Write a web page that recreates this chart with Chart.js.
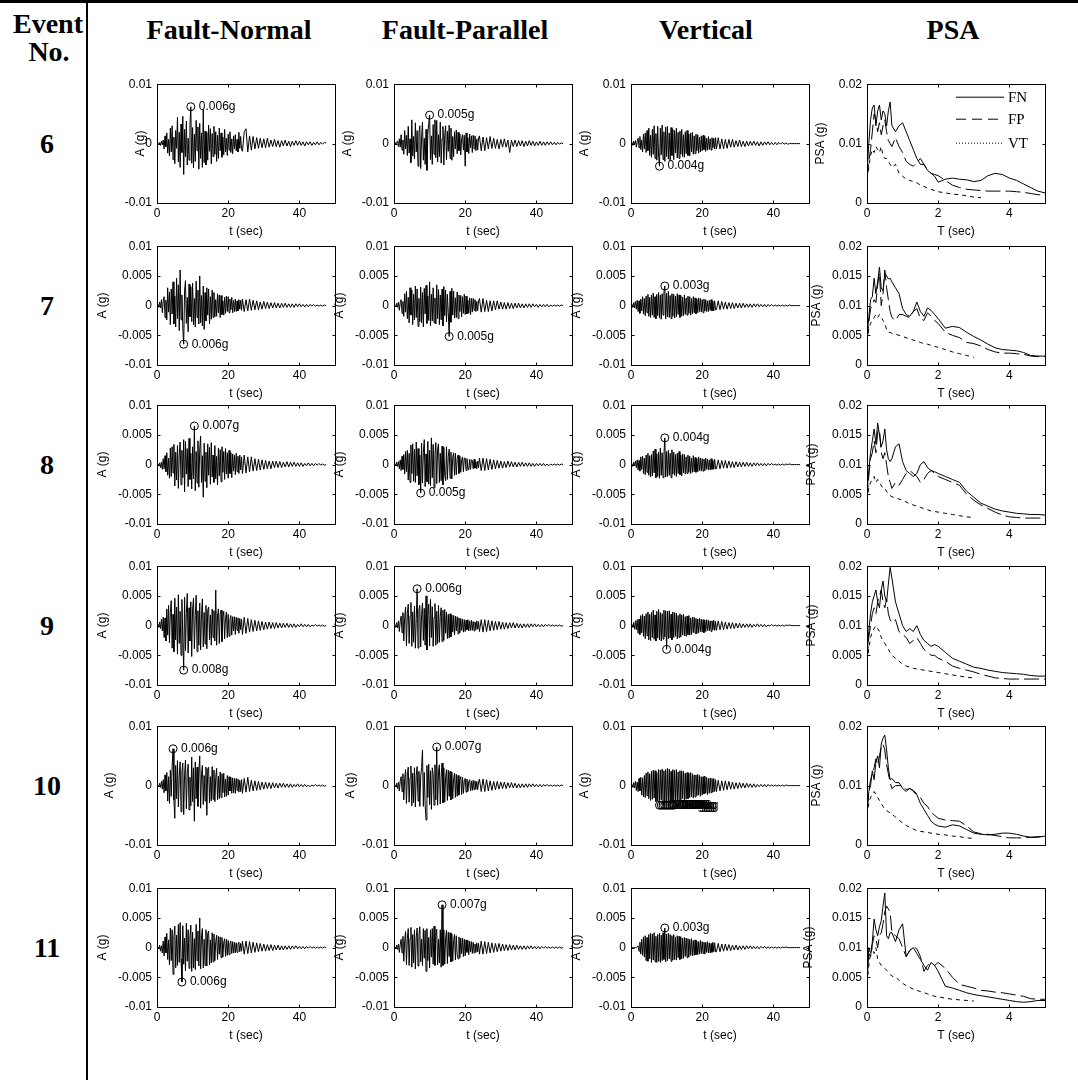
<!DOCTYPE html>
<html><head><meta charset="utf-8">
<script src="https://cdn.jsdelivr.net/npm/chart.js@4.4.1/dist/chart.umd.min.js"></script>
<style>
body{margin:0;background:#fff;width:1078px;height:1080px;position:relative;overflow:hidden}
.hd{position:absolute;font-family:"Liberation Serif",serif;font-weight:bold;font-size:28px;line-height:1;transform:translate(-50%,-50%);white-space:nowrap;color:#000}
</style></head><body>
<div style="position:absolute;left:0;top:0;width:1078px;height:3px;background:#000"></div>
<div style="position:absolute;left:86px;top:0;width:2px;height:1080px;background:#000"></div>
<script>
// ---------------- data ----------------
const events = ['6','7','8','9','10','11'];
const columns = ['Fault-Normal','Fault-Parallel','Vertical','PSA'];
// digitised records: 96 samples every 0.25 s (0-24 s), then 48 samples every 0.5 s (24-47.5 s)
const DT_STRONG = 0.25, N_STRONG = 96, DT_TAIL = 0.5;
const MG = 0.001;        // values below are in milli-g
const tTicks = [0,20,40];
const TTicks = [0,2,4];
const aTicksCoarse = [-0.01,0,0.01];
const aTicksFine = [-0.01,-0.005,0,0.005,0.01];
const psaTicksCoarse = [0,0.01,0.02];
const psaTicksFine = [0,0.005,0.01,0.015,0.02];
const fineRow = [false,true,true,true,false,true];

const fn6=[0,0.1,-0.1,0.2,-0.3,0.4,-0.2,0.6,
-0.9,1.3,-0.5,1.8,-1.6,0.7,-2.1,2.6,
-1.4,3.0,-2.7,1.1,-3.4,2.2,-0.8,4.4,
-3.1,1.9,-4.0,3.3,-1.5,4.6,-5.2,2.4,
-2.2,3.8,-3.6,0.9,-2.8,3.1,6.2,-3.3,
2.7,-4.1,1.6,-3.0,3.9,-1.2,2.8,-4.3,
3.4,-2.5,1.8,-4.0,5.8,-3.2,2.1,-3.6,
1.9,-2.8,3.1,-1.3,2.5,-3.4,1.7,-2.2,
2.9,-1.8,2.0,-3.0,1.4,-2.5,2.6,-1.2,
1.8,-2.3,1.1,-1.9,2.4,-1.4,0.9,-2.0,
1.6,-1.1,2.0,-1.5,0.8,-1.7,1.3,-0.9,
1.5,-1.2,0.7,-1.4,1.9,-0.8,1.2,-1.0,
-1.3,2.0, 2.5,-1.4,1.3,-1.1,1.2,-0.9,1.0,-0.8,0.9,-0.7, 0.8,-0.7,0.9,-0.6,0.6,-0.5,0.7,-0.5,0.5,-0.6, 0.5,-0.4,0.6,-0.4,0.4,-0.5,0.4,-0.3,0.5,-0.3, 0.4,-0.3,0.3,-0.4,0.3,-0.2,0.3,-0.3,0.2,-0.2, 0.3,-0.2,0.2,-0.1,0.2,0.1];
const fp6=[0,0.2,-0.1,0.3,0.4,-0.5,0.8,-0.6,
1.5,-1.1,0.6,-1.8,2.2,-0.9,1.4,-2.0,
2.9,-1.6,0.8,-3.2,4.0,-2.1,1.2,-2.6,
3.5,-1.4,2.2,-3.8,1.7,3.0,-4.2,1.1,
3.6,-2.8,0.9,-3.5,2.4,-4.5,1.6,3.4,
4.8,-2.7,1.3,-3.5,3.2,-1.8,4.0,-2.4,
3.9,-3.1,1.5,-2.2,3.6,-3.3,0.8,2.9,
-3.6,1.4,3.0,-2.7,2.1,-1.3,3.1,-2.5,
2.6,-2.8,1.2,-2.2,2.0,-0.9,2.3,-1.7,
1.9,-1.2,1.6,-1.9,0.8,1.5,-1.1,1.4,
-3.8,1.8,-1.4,1.0,-1.7,1.6,-0.7,1.3,
-1.5,1.4,-0.9,1.3,-1.2,0.8,-1.1,1.0,
1.3,-1.2, 1.1,-1.2,1.0,-0.9,1.2,-0.8,0.9,-0.8,0.7,-0.9, 0.7,-0.6,0.8,-0.6,0.6,-1.5,0.6,-0.5,0.6,-0.5, 0.5,-0.4,0.5,-0.5,0.4,-0.4,0.5,-0.3,0.4,-0.4, 0.3,-0.3,0.4,-0.3,0.3,-0.3,0.3,-0.2,0.3,-0.2, 0.2,-0.2,0.2,-0.1,0.1,0];
const vt6=[0,0.2,-0.3,0.4,-0.2,0.5,-0.6,0.3,
0.9,-0.7,1.2,-1.0,0.6,-1.4,1.6,-0.9,
1.8,-1.5,2.2,-1.2,2.6,-2.0,1.4,-2.3,
2.4,-1.8,3.0,-2.5,1.7,-2.8,2.9,-2.1,
-3.8,2.6,-1.9,3.1,-2.7,2.0,-3.0,2.8,
-2.2,2.9,-2.6,1.8,-2.9,2.7,-2.0,2.4,
-2.7,2.2,-1.6,2.6,-2.4,1.9,-2.5,2.1,
-1.8,2.4,-2.2,1.5,-2.3,2.0,-1.7,2.2,
-2.0,1.6,-2.1,1.8,-1.4,1.9,-1.8,1.3,
-1.7,1.6,-1.2,1.5,-1.6,1.1,-1.4,1.3,
-1.2,1.4,-1.0,1.2,-1.3,0.9,-1.1,1.2,
-1.0,0.8,-1.1,1.0,-0.7,0.9,-0.9,1.0,
-0.9,1.0, -0.9,0.8,-0.9,0.7,-0.8,0.7,-0.6,0.7,-0.6,0.5, -0.5,0.6,-0.5,0.4,-0.5,0.4,-0.4,0.4,-0.3,0.4, -0.3,0.3,-0.4,0.3,-0.3,0.3,-0.2,0.3,-0.2,0.2, -0.2,0.2,-0.2,0.2,-0.1,0.2,-0.1,0.1,-0.1,0, 0,0,0,0,0,0];
const fn7=[0,0.2,-0.3,0.6,-0.4,1.0,-1.2,0.8,
1.5,-2.0,0.9,-2.4,3.0,-1.1,2.3,-3.2,
2.8,-1.4,4.0,-3.1,1.6,-3.6,4.6,-2.2,
3.5,-4.2,6.0,-2.4,1.8,-3.8,-6.5,2.6,
4.2,-3.0,1.4,-4.4,3.6,-1.9,3.2,-2.7,
3.8,-3.2,1.2,-3.6,4.1,-2.0,2.6,-3.1,
5.0,-2.9,1.7,-3.4,3.3,-4.0,2.2,-2.6,
3.0,-1.6,2.8,-3.1,1.5,-2.3,2.6,-2.0,
2.2,-1.9,1.0,-1.8,2.0,-1.2,1.8,-2.0,
1.7,-1.5,0.8,-1.6,1.4,-1.3,1.6,-1.0,
1.5,-1.2,1.1,-0.7,1.4,-1.2,0.9,-1.0,
1.1,-1.0,0.8,-0.9,1.0,-0.6,0.9,-0.8,
1.1,-1.0, 1.0,-0.9,1.1,-0.8,0.9,-0.7,0.8,-0.7,0.6,-0.6, 0.7,-0.5,0.6,-0.5,0.5,-0.4,0.5,-0.4,0.4,-0.4, 0.4,-0.3,0.4,-0.3,0.3,-0.3,0.3,-0.3,0.3,-0.2, 0.3,-0.2,0.2,-0.2,0.2,-0.2,0.2,-0.1,0.2,-0.1, 0.1,-0.1,0.1,-0.1,0.1,0];
const fp7=[0,0.1,-0.2,0.4,-0.3,0.6,-0.8,0.5,
1.0,-1.3,0.7,-1.8,2.0,-1.1,2.4,-2.2,
1.4,-2.9,3.0,-1.6,2.6,-3.2,1.9,-2.4,
3.3,-2.0,2.8,-3.5,1.2,-2.7,3.1,-2.9,
2.2,-3.6,2.9,-1.4,3.4,-3.0,1.6,-2.5,
4.0,-3.4,1.9,-2.6,3.0,-2.9,1.3,-3.1,
3.5,-2.2,2.7,-3.2,1.8,-2.4,2.8,-3.4,
3.2,-1.7,2.6,-2.7,1.9,-1.2,-5.2,2.4,
-2.8,2.9,-1.6,2.4,-2.1,1.3,-2.0,2.3,
-2.2,1.8,-1.0,1.7,-1.9,1.5,-1.3,1.9,
-1.5,1.6,-1.4,0.9,-1.3,1.3,-1.5,1.2,
-1.1,1.2,-0.8,1.0,-1.0,0.7,-0.9,0.8,
1.2,-1.1, 1.2,-1.0,0.9,-1.0,0.8,-0.9,0.8,-0.7,0.8,-0.6, 0.6,-0.6,0.5,-0.6,0.5,-0.5,0.4,-0.5,0.4,-0.4, 0.4,-0.4,0.3,-0.4,0.3,-0.3,0.3,-0.3,0.3,-0.2, 0.2,-0.3,0.2,-0.2,0.2,-0.2,0.2,-0.2,0.1,-0.1, 0.1,-0.1,0.1,-0.1,0.1,0];
const vt7=[0,0.2,-0.3,0.5,-0.4,0.7,-0.6,0.9,
-1.0,0.8,-1.3,1.1,-0.9,1.5,-1.4,1.2,
-1.7,1.6,-1.2,1.9,-1.8,1.4,-2.0,1.8,
-1.6,2.1,-2.0,1.5,-2.2,1.9,-1.7,2.2,
-2.1,1.8,-2.3,2.0,-1.6,2.3,3.3,-2.2,
2.1,-1.9,2.4,-2.0,1.7,-2.2,2.0,-1.8,
1.9,-2.1,1.6,-1.9,2.0,-1.5,1.8,-2.0,
1.7,-1.8,1.4,-1.7,1.8,-1.5,1.3,-1.6,
1.6,-1.3,1.5,-1.6,1.2,-1.4,1.5,-1.2,
1.3,-1.4,1.1,-1.2,1.3,-1.0,1.2,-1.1,
1.0,-1.2,1.1,-0.9,1.0,-1.0,0.8,-1.0,
0.9,-0.8,1.0,-0.9,0.7,-0.9,0.8,-0.7,
-0.7,0.8, -0.7,0.7,-0.6,0.6,-0.6,0.5,-0.5,0.5,-0.5,0.4, -0.4,0.4,-0.4,0.4,-0.3,0.3,-0.3,0.3,-0.3,0.3, -0.2,0.3,-0.2,0.2,-0.2,0.2,-0.2,0.2,-0.1,0.2, -0.1,0.1,-0.1,0.1,-0.1,0.1,-0.1,0.1,-0.1,0.1, 0,0,0,0,0,0];
const fn8=[0,0.1,-0.2,0.3,-0.5,0.4,-0.8,1.0,
-0.7,1.5,-1.2,2.0,-1.8,1.1,-2.3,2.8,
-2.0,3.0,-1.4,3.4,-3.6,2.1,-2.6,3.2,
-4.0,1.8,3.8,-3.4,2.4,-2.2,4.2,-4.6,
3.9,-1.6,2.7,-3.7,4.4,-2.5,1.9,-4.1,
3.0,-2.4,6.5,-4.4,2.2,-3.1,4.0,-3.8,
2.6,4.8,-3.0,1.5,-5.5,3.6,-2.8,2.1,
-3.9,3.5,-1.8,2.9,-3.3,3.7,-2.1,1.6,
-3.0,3.2,-2.4,1.4,-3.4,2.8,-1.9,2.5,
-2.9,3.0,-1.3,2.2,-2.5,2.7,-1.6,2.0,
-2.3,2.4,-1.5,2.0,-2.2,1.8,-1.1,1.6,
-1.7,1.9,-1.2,1.4,-1.5,1.6,-0.9,1.3,
-1.5,1.6, -1.4,1.3,-1.2,1.3,-1.1,1.0,-1.0,0.9,-0.9,0.8, -0.8,0.7,-0.7,0.6,-0.7,0.6,-0.5,0.6,-0.5,0.5, -0.5,0.4,-0.4,0.5,-0.4,0.4,-0.3,0.4,-0.3,0.3, -0.3,0.3,-0.3,0.2,-0.2,0.3,-0.2,0.2,-0.2,0.2, -0.1,0.2,-0.1,0.1,-0.1,0];
const fp8=[0,0.1,-0.2,0.4,-0.3,0.5,-0.7,0.8,
-1.0,1.4,-0.8,1.7,-1.6,2.2,-1.2,2.4,
-2.6,1.9,-3.0,3.3,-1.5,3.5,-2.8,2.6,
-3.0,3.8,-1.9,2.7,-3.4,1.6,-4.8,3.6,
-3.1,2.0,4.2,-3.7,1.8,-2.9,3.9,-3.3,
2.4,-3.6,4.5,-2.2,3.4,-3.9,1.7,3.7,
-3.2,2.6,3.5,-3.0,1.9,-2.7,3.1,-3.4,
2.9,-1.8,-2.7,3.0,-2.5,1.4,2.6,-2.3,
2.1,-2.4,1.2,2.0,-1.8,1.9,-1.7,1.0,
1.6,-1.5,1.4,-1.3,0.8,1.3,-1.2,1.1,
1.1,-1.0,1.0,-0.6,-0.9,0.9,-0.8,0.8,
0.7,-0.7,0.9,-0.6,0.5,-0.7,0.6,-0.5,
1.1,-1.0, 1.1,-1.0,1.0,-0.9,0.9,-0.8,0.8,-0.7,0.7,-0.6, 0.6,-0.6,0.5,-0.5,0.6,-0.4,0.5,-0.4,0.4,-0.4, 0.4,-0.3,0.4,-0.3,0.3,-0.3,0.3,-0.3,0.2,-0.3, 0.2,-0.2,0.2,-0.2,0.2,-0.2,0.1,-0.2,0.1,-0.1, 0.1,-0.1,0.1,-0.1,0.1,0];
const vt8=[0,0.1,-0.3,0.4,-0.2,0.6,-0.5,0.8,
-0.9,0.7,-1.1,1.3,-0.8,1.4,-1.5,1.1,
-1.7,1.6,-1.3,1.9,-1.8,1.5,-2.1,1.7,
-1.9,2.3,-1.4,2.6,-2.2,1.8,-2.0,2.1,
-2.3,2.8,-1.8,2.0,-2.2,1.7,4.5,-2.1,
2.2,-2.0,2.4,-1.8,1.9,-2.2,2.5,-1.6,
2.1,-1.8,1.7,-2.0,1.9,-1.5,2.2,-1.7,
1.6,-1.9,1.8,-1.4,1.7,-1.6,1.3,-1.5,
1.6,-1.3,1.4,-1.5,1.1,-1.3,1.5,-1.2,
1.2,-1.3,1.0,-1.2,1.3,-1.0,1.1,-1.1,
1.0,-1.1,0.9,-1.0,1.1,-0.8,0.9,-0.9,
0.8,-0.9,1.0,-0.8,0.7,-0.8,0.9,-0.7,
-0.7,0.8, -0.7,0.7,-0.6,0.7,-0.6,0.6,-0.5,0.5,-0.5,0.5, -0.4,0.4,-0.4,0.4,-0.3,0.4,-0.3,0.3,-0.3,0.3, -0.2,0.3,-0.2,0.2,-0.2,0.2,-0.2,0.2,-0.1,0.2, -0.1,0.1,-0.1,0.1,-0.1,0.1,-0.1,0.1,0,0.1, 0,0,0,0,0,0];
const fn9=[0,0.2,-0.3,0.6,-0.5,1.1,-0.9,1.4,
-2.0,1.3,-2.6,2.8,-1.6,3.4,-2.9,2.2,
4.2,-3.8,1.9,-4.4,4.6,-2.4,3.1,-4.8,
5.2,-3.0,2.4,-5.0,4.4,-2.1,-7.5,4.8,
-4.2,2.0,5.4,-4.6,3.0,-2.6,4.0,-5.2,
2.8,4.6,-3.9,1.7,5.1,-4.4,2.5,-3.3,
3.8,-4.1,1.9,4.5,-3.6,2.2,-3.1,3.4,
-3.9,2.6,3.1,-2.4,1.8,-3.3,2.8,-2.0,
2.5,-2.6,6.0,-3.3,1.6,2.8,-3.0,1.9,
2.6,-2.7,1.4,2.4,-2.2,1.2,2.3,-2.0,
1.9,-1.8,1.0,1.7,-1.6,1.5,-0.9,1.5,
-1.5,1.4,-0.8,1.3,-1.3,1.2,-0.7,1.1,
-1.5,1.4, -1.3,1.2,-1.1,1.0,-1.0,0.9,-0.9,0.8,-0.8,0.7, -0.7,0.6,-0.6,0.6,-0.5,0.5,-0.5,0.5,-0.4,0.4, -0.4,0.4,-0.3,0.4,-0.3,0.3,-0.3,0.3,-0.3,0.2, -0.2,0.3,-0.2,0.2,-0.2,0.2,-0.2,0.1,-0.1,0.2, -0.1,0.1,-0.1,0.1,-0.1,0];
const fp9=[0,0.1,-0.3,0.5,-0.4,0.8,-1.0,0.7,
1.6,-1.2,2.2,-2.6,1.4,3.1,-3.4,2.0,
3.6,-3.0,1.6,3.9,-3.5,2.3,-2.8,3.3,
-3.8,1.2,6.2,-3.8,2.6,3.4,-3.6,1.9,
3.8,-2.5,2.9,-3.3,5.0,-4.1,1.8,3.6,
-3.4,4.4,-2.0,3.2,-3.5,1.4,3.7,-3.3,
2.4,-3.0,3.4,-2.8,1.6,3.0,-2.7,2.6,
-2.5,2.7,-1.3,2.3,-2.2,1.9,-2.1,2.0,
-1.9,1.8,-1.1,1.7,-1.6,1.6,-0.9,1.5,
-1.4,1.3,-1.2,1.2,-0.8,1.1,-1.1,1.0,
-1.0,0.9,-0.7,1.0,-0.9,0.8,-0.8,0.9,
-0.8,0.7,-0.9,0.6,-0.7,0.8,-0.6,0.7,
-1.0,1.0, -1.1,1.0,-1.0,0.9,-0.9,0.8,-0.8,0.7,-0.7,0.7, -0.6,0.6,-0.6,0.5,-0.5,0.5,-0.4,0.5,-0.4,0.4, -0.4,0.3,-0.4,0.3,-0.3,0.3,-0.3,0.3,-0.2,0.3, -0.2,0.2,-0.2,0.2,-0.2,0.2,-0.1,0.2,-0.1,0.1, -0.1,0.1,-0.1,0.1,-0.1,0];
const vt9=[0,0.2,-0.3,0.5,-0.6,0.8,-0.7,1.0,
-1.3,1.1,-1.5,1.7,-1.2,1.9,-1.8,1.6,
-2.2,2.0,-1.7,2.3,-2.4,1.9,-2.5,2.2,
-2.0,2.6,-2.3,1.8,-2.6,2.4,-2.1,2.7,
-2.4,2.2,-2.6,2.0,-2.3,2.6,-1.9,2.5,
-4.0,2.4,-2.2,2.5,-2.1,1.9,-2.4,2.3,
-2.0,2.2,-1.8,2.1,-2.2,1.7,-2.0,2.0,
-1.9,1.8,-1.6,1.9,-1.7,1.5,-1.8,1.6,
-1.5,1.7,-1.6,1.3,-1.5,1.4,-1.2,1.4,
-1.3,1.2,-1.4,1.1,-1.2,1.2,-1.0,1.1,
-1.1,1.0,-1.2,0.9,-1.0,1.0,-0.8,0.9,
-0.9,0.8,-1.0,0.8,-0.7,0.9,-0.8,0.7,
-0.8,0.8, -0.7,0.7,-0.7,0.6,-0.6,0.5,-0.5,0.5,-0.5,0.4, -0.4,0.4,-0.4,0.3,-0.3,0.3,-0.3,0.3,-0.3,0.2, -0.2,0.3,-0.2,0.2,-0.2,0.2,-0.2,0.1,-0.1,0.2, -0.1,0.1,-0.1,0.1,-0.1,0.1,-0.1,0.1,0,0.1, 0,0,0,0,0,0];
const fn10=[0,0.1,-0.2,0.4,-0.3,0.7,-0.6,1.0,
-1.2,1.8,-0.9,2.2,-2.6,1.5,-3.0,2.6,
-1.8,3.2,6.2,-2.4,-5.5,3.4,-2.2,4.2,
-3.6,1.6,4.0,-4.4,2.3,3.8,-4.9,1.9,
4.3,-3.9,2.1,3.6,-4.1,1.4,-3.4,4.8,
-2.7,3.0,-6.0,4.0,-2.2,3.1,-3.5,2.4,
5.0,-3.8,2.0,3.4,-3.2,1.7,-2.6,3.1,
-5.0,2.8,3.1,-2.9,1.5,-2.6,3.2,-2.3,
2.6,-2.7,1.4,2.9,-2.4,1.6,-2.2,2.3,
-2.0,2.0,-1.2,2.1,-1.9,1.1,-1.8,1.7,
-1.6,1.5,-0.9,1.4,-1.3,1.3,-1.2,1.2,
-1.3,1.2,-0.8,1.1,-1.1,0.9,-1.0,1.0,
-1.3,1.2, -1.1,1.4,-1.0,0.9,-0.9,0.8,-0.8,0.7,-0.7,0.6, -0.6,0.6,-0.5,0.5,-0.5,0.5,-0.4,0.4,-0.4,0.4, -0.3,0.4,-0.3,0.3,-0.3,0.3,-0.3,0.2,-0.2,0.3, -0.2,0.2,-0.2,0.2,-0.2,0.1,-0.2,0.1,-0.1,0.2, -0.1,0.1,-0.1,0.1,-0.1,0];
const fp10=[0,0.1,-0.2,0.4,-0.5,0.6,-0.9,0.7,
1.5,-1.0,2.0,-2.4,1.2,2.7,-3.0,1.8,
3.1,-2.8,1.3,3.3,-3.4,2.1,-2.9,3.0,
-3.6,1.7,3.2,-2.6,2.4,-3.5,1.6,3.0,
6.0,-3.5,2.2,-3.2,-5.8,3.4,-2.0,3.6,
-3.2,2.5,-4.0,3.0,1.8,-3.3,3.5,-2.4,
6.5,-3.3,2.4,3.5,-3.1,1.6,3.8,-2.9,
3.0,-2.8,1.4,2.7,-2.5,2.6,-1.8,2.4,
-2.4,2.3,-2.2,1.2,2.1,-2.0,1.9,-1.8,
1.7,-1.6,1.0,1.5,-1.5,1.4,-1.3,0.8,
1.2,-1.1,1.1,-1.0,0.7,1.0,-0.9,0.8,
-0.8,0.9,-0.7,0.8,-0.6,0.7,-0.7,0.6,
1.1,-1.0, 1.1,-1.0,1.0,-0.9,0.8,-0.8,0.7,-0.7,0.7,-0.6, 0.6,-0.5,0.6,-0.5,0.5,-0.4,0.5,-0.4,0.4,-0.4, 0.3,-0.4,0.3,-0.3,0.3,-0.3,0.3,-0.2,0.3,-0.2, 0.2,-0.2,0.2,-0.2,0.2,-0.1,0.2,-0.1,0.1,-0.1, 0.1,-0.1,0.1,-0.1,0.1,0];
const vt10=[0,0.2,-0.3,0.5,-0.4,0.7,-0.8,0.6,
-1.0,1.2,-0.9,1.4,-1.6,1.3,-1.9,1.7,
-2.0,2.1,-1.7,2.3,-2.2,2.0,-2.5,2.4,
-2.3,2.6,-2.1,2.5,-2.7,2.2,-2.6,2.7,
-3.3,2.6,-2.4,2.8,-3.2,2.5,-2.8,2.7,
-3.3,2.9,-2.6,2.8,-3.1,2.4,-2.9,2.7,
-2.8,2.6,-2.5,2.7,-2.6,2.3,-2.7,2.5,
-2.4,2.5,-2.2,2.4,-2.5,2.1,-2.3,2.2,
-2.2,2.1,-2.0,2.2,-1.9,2.0,-2.1,1.8,
-1.9,1.8,-1.7,1.9,-1.6,1.7,-1.8,1.5,
-1.6,1.5,-1.4,1.6,-1.3,1.4,-1.5,1.2,
-1.3,1.3,-1.2,1.2,-1.1,1.2,-1.0,1.0,
-1.0,0.9, -0.9,0.8,-0.8,0.8,-0.7,0.7,-0.6,0.6,-0.6,0.5, -0.5,0.5,-0.4,0.4,-0.4,0.4,-0.3,0.3,-0.3,0.3, -0.3,0.2,-0.2,0.2,-0.2,0.2,-0.2,0.2,-0.1,0.1, -0.1,0.1,-0.1,0.1,-0.1,0.1,-0.1,0.1,0,0, 0,0,0,0,0,0];
const fn11=[0,0.1,-0.2,0.4,-0.6,0.3,-0.9,1.1,
-1.4,1.8,-0.9,2.4,-2.0,1.3,-2.9,3.3,
-2.2,3.0,-4.5,1.8,3.6,-3.4,2.1,-3.0,
3.9,-2.5,4.2,-1.9,-5.8,3.7,-2.8,1.6,
-3.9,4.1,-2.3,3.0,-3.5,1.8,3.8,-4.0,
2.6,-3.4,1.5,-3.7,3.9,-2.2,2.8,-3.1,
5.0,-3.6,2.0,3.2,-3.4,1.4,-3.0,3.0,
-3.1,2.4,2.8,-2.9,1.3,-2.6,2.5,-2.4,
2.3,-2.2,1.0,2.1,-2.0,1.9,-1.1,1.8,
-1.7,1.7,-1.6,0.9,1.5,-1.5,1.4,-1.3,
1.2,-1.2,0.7,1.1,-1.0,1.0,-0.9,0.9,
-0.9,0.8,-0.8,0.6,0.9,-0.7,0.7,-0.6,
1.1,-1.1, 1.1,-1.0,1.0,-0.9,0.9,-0.8,0.8,-0.7,0.7,-0.6, 0.6,-0.6,0.5,-0.5,0.5,-0.5,0.4,-0.4,0.4,-0.4, 0.3,-0.4,0.3,-0.3,0.3,-0.3,0.3,-0.2,0.3,-0.2, 0.2,-0.2,0.2,-0.2,0.2,-0.1,0.2,-0.1,0.1,-0.1, 0.1,-0.1,0.1,-0.1,0.1,0];
const fp11=[0,0.1,-0.2,0.4,-0.3,0.6,-0.8,0.5,
1.4,-0.9,1.9,-2.3,1.2,2.7,-2.9,1.6,
3.2,-3.0,1.5,3.4,-3.3,2.2,-2.6,3.0,
-3.6,1.8,3.3,-3.1,2.0,3.5,-2.4,1.4,
-3.0,3.2,-1.8,2.9,-4.0,3.2,-2.2,1.7,
-3.4,3.0,-1.6,3.2,-2.8,3.6,-3.0,1.9,
3.1,-2.9,1.4,-2.6,3.0,-3.3,7.2,-3.0,
3.0,-2.8,1.6,2.9,-2.7,2.6,-1.5,2.5,
-2.4,2.3,-2.3,1.2,2.2,-2.1,2.0,-1.2,
-1.9,1.8,-1.7,1.6,-1.0,1.6,-1.5,1.4,
-1.4,1.3,-0.8,1.2,-1.2,1.1,-0.7,1.0,
-1.0,0.9,-0.9,0.6,-0.8,0.8,-0.7,0.7,
-1.1,1.1, -1.1,1.0,-1.0,0.9,-0.9,0.8,-0.8,0.7,-0.7,0.7, -0.6,0.6,-0.5,0.5,-0.5,0.5,-0.4,0.4,-0.4,0.4, -0.3,0.3,-0.3,0.3,-0.3,0.3,-0.2,0.3,-0.2,0.2, -0.2,0.2,-0.2,0.2,-0.1,0.2,-0.1,0.1,-0.1,0.1, -0.1,0.1,-0.1,0.1,-0.1,0];
const vt11=[0,0,0,0,0,0,0,0.1,
0.3,-0.6,0.9,-1.1,1.4,-1.3,1.8,-1.6,
2.0,-2.2,1.7,-2.3,2.2,-1.9,2.4,-2.5,
2.3,-2.1,2.5,-2.4,1.9,-2.5,2.2,-2.3,
2.4,-2.5,2.1,-2.2,2.5,-2.0,3.3,-2.4,
2.3,-2.2,2.4,-1.9,2.2,-2.3,2.0,-2.1,
2.2,-2.0,1.8,-2.1,2.0,-1.7,1.9,-2.0,
1.8,-1.9,1.6,-1.8,1.7,-1.5,1.6,-1.7,
1.5,-1.6,1.4,-1.3,1.5,-1.4,1.2,-1.3,
1.3,-1.2,1.1,-1.2,1.0,-1.1,1.2,-1.0,
1.0,-1.0,0.9,-1.1,0.9,-0.8,1.0,-0.9,
0.8,-0.9,0.7,-0.8,0.9,-0.7,0.8,-0.7,
-0.7,0.7, -0.7,0.6,-0.6,0.6,-0.5,0.5,-0.5,0.4,-0.4,0.4, -0.4,0.3,-0.3,0.3,-0.3,0.3,-0.2,0.3,-0.2,0.2, -0.2,0.2,-0.2,0.2,-0.1,0.2,-0.1,0.1,-0.1,0.1, -0.1,0.1,-0.1,0.1,-0.1,0.1,0,0.1,0,0, 0,0,0,0,0,0];

// peak markers: sample indices and labels
const peakFN = [[38],[30],[42],[30],[18],[28]];
const peakFP = [[40],[62],[30],[26],[48],[54]];
const peakVT = [[32],[38],[38],[40],[32,34,36,38,40,42,44,46,48],[38]];
const peakLabelFN = ['0.006g','0.006g','0.007g','0.008g','0.006g','0.006g'];
const peakLabelFP = ['0.005g','0.005g','0.005g','0.006g','0.007g','0.007g'];
const peakLabelVT = ['0.004g','0.003g','0.004g','0.004g','0.003g','0.003g'];

// pseudo-spectral acceleration (mg) at these periods (s)
const periods=[0,0.05,0.1,0.15,0.2,0.25,0.3,0.35,0.4,0.45,0.5,0.55,0.6,0.65,0.7, 0.8,0.9,1.0,1.1,1.2,1.3,1.4,1.5,1.6,1.7,1.8,1.9,2.0, 2.2,2.4,2.6,2.8,3.0,3.2,3.4,3.6,3.8,4.0,4.2,4.4,4.6,4.8,5.0];
const psaFN6=[5,10,14,16,16.5,13,15.5,16.5,14,15.5,15,13,15.5,17,13, 12,13,13.5,12,10.5,9,7.5,6.5,6.5,5.5,5,4.5,3.5, 4,4.2,4,3.9,3.6,3.8,4.6,5,4.8,4.2,3.8,3.2,2.6,2,1.7];
const psaFP6=[4,7,9,12,15,14,12,13.5,11.5,13,14,12,10.5,10,9.5, 11,9.5,8.5,7,6.5,6.2,6.8,7.5,6.5,5.5,5,4.8,4.6, 3.8,3,2.6,2.3,2.2,2.1,2,2,2,2,1.9,1.8,1.6,1.4,1.3];
const psaVT6=[4,6,8,9,8.5,9.5,9,8.5,9.5,8,7.5,7.5,7,6.5,6, 6.5,5,4.5,4,3.8,3.6,3.4,3,2.8,2.5,2.3,2.1,1.9, 1.7,1.5,1.4,1.2,1.0,0.9,null,null,null,null,null,null,null,null,null];
const psaFN7=[5,8,11,11.5,14.6,12,14,16.5,13,12.5,15.5,15,14.5,14.6,14, 13,12,9.5,8.5,8.2,9,10.6,9,8.2,9.6,9.2,8.5,7.8, 6.2,6.5,6.3,5.5,4.8,4.2,3.5,2.9,2.6,2.5,2.4,2.1,1.6,1.5,1.5];
const psaFP7=[4,7,9.5,10,11,10.5,13.5,15.5,10,12,16,13,11,9,8, 7.5,8.5,8.5,8.2,8,9,9.5,7.8,7.5,8.8,8.2,7.5,7, 5.5,5,4.6,3.8,3.6,3.2,2.6,2.2,2,2,1.9,1.8,1.5,1.4,1.4];
const psaVT7=[4,6,7,7.5,8,8.5,8,8.5,8,7.5,7,6,5.5,5.5,5.3, 5.2,5,4.8,4.6,4.4,4.2,4,3.8,3.6,3.5,3.3,3.1,3, 2.6,2.2,1.9,1.6,1.3,null,null,null,null,null,null,null,null,null,null];
const psaFN8=[5,9,12,14,16,13.5,17,15,13,14,16,12.5,11,10.5,11, 13,13.5,10.5,9,8.5,8,8.5,10,10.5,9.5,9,8.8,8.5, 8,7.5,7,5.5,4.5,3.5,3,2.5,2.2,2,1.8,1.7,1.6,1.6,1.5];
const psaFP8=[4,8,11,12,14,12,15.5,16,12,11,12,10,8,7,6, 7,6.5,7.5,8.5,9,8.5,8,7,7.5,8.5,9,8.5,8, 7.5,7,6.5,5,4,3.2,2.6,2,1.5,1.2,1.1,1,1,1,1];
const psaVT8=[4,6,7,7.5,8,7,7.5,7,6.5,6,6,5.5,5,4.8,4.6, 4.4,4.2,4,3.7,3.4,3.2,3,2.8,2.6,2.4,2.2,2.1,2, 1.8,1.6,1.4,1.2,1.1,null,null,null,null,null,null,null,null,null,null];
const psaFN9=[5,9,12,14,15,16,14,13,16,17.5,15,14,17,19.8,18, 14,12,10,9,9.5,9,10,8.5,7.5,7,6.5,6.8,6.5, 5.5,4.5,4,3.5,3,2.8,2.5,2.3,2.1,2,1.9,1.8,1.6,1.5,1.5];
const psaFP9=[4,8,10,12,13,12,14,15,16,14,13,14.5,12,11,10.5, 11,9,8.5,8,7,7.5,8,7,6,5.5,5,5,4.5, 4,3.2,2.8,2.5,2.2,1.8,1.5,1.2,1.1,1,1,1,1,1,1];
const psaVT9=[4,6,8,9,9.5,10,9.5,9,8,7.5,7,6.5,6,5.5,5, 4.5,4,3.5,3.2,3,2.8,2.7,2.6,2.5,2.4,2.3,2.2,2.1, 1.9,1.7,1.5,1.3,1.2,null,null,null,null,null,null,null,null,null,null];
const psaFN10=[5,9,10,12.5,11,14,15,13,17,18,18.5,16,13,11,11.2, 10.5,10.5,9.5,9,9.6,9,8.5,7,6,5,4,3.5,3.2, 3,3.4,3.2,2.6,2,1.8,1.7,1.8,2,2,1.8,1.5,1.3,1.3,1.5];
const psaFP10=[6,9,11,12,13,14.5,13.5,15,16.5,17,16,13.5,12,10.5,9.5, 10,10,10,9.3,9.5,9.2,8.6,8,7,6.5,5.5,5,4.5, 4.2,4.1,4,3.2,2.2,1.9,1.8,1.6,1.4,1.2,1.2,1.2,1.3,1.4,1.5];
const psaVT10=[5,7,8,8.5,9,8.5,8,7.5,7,6.5,6,5.8,5.6,5.4,5.2, 4.7,4.2,3.7,3.3,3,2.7,2.4,2.3,2.2,2.1,2,1.9,1.8, 1.7,1.5,1.4,1.2,1.1,null,null,null,null,null,null,null,null,null,null];
const psaFN11=[4,9,8.5,11,14.8,13,12,13.5,14.5,17,19.2,12,11.5,12.5,12.5, 11,13,14,8.5,9.5,10,9,8,7,6.2,7.5,7,6, 3.5,3.2,2.8,2.4,2.1,1.9,1.7,1.5,1.3,1.1,0.9,0.8,0.9,1.1,1.1];
const psaFP11=[5,10,9,10.5,12,11.5,10,12,12.5,14,16,17,16.5,16,12.5, 12,11.5,10,8.5,9.5,10.2,9.8,8.5,6,7,7.5,7,7.5, 6.5,5,3.8,3.5,3.2,2.8,2.7,2.5,2.4,2.2,2,1.8,1.4,1.3,1.3];
const psaVT11=[4,7,9,10,9,10,8,7.5,7,6.8,6.5,6.2,5.8,5.5,5.2, 5,4.5,4,3.6,3.3,3,2.8,2.6,2.4,2.2,2,1.8,1.7, 1.5,1.3,1.2,1.1,1,null,null,null,null,null,null,null,null,null,null];
const legendLabels = ['FN','FP','VT'];

const accFN=[fn6,fn7,fn8,fn9,fn10,fn11];
const accFP=[fp6,fp7,fp8,fp9,fp10,fp11];
const accVT=[vt6,vt7,vt8,vt9,vt10,vt11];
const psaFN=[psaFN6,psaFN7,psaFN8,psaFN9,psaFN10,psaFN11];
const psaFP=[psaFP6,psaFP7,psaFP8,psaFP9,psaFP10,psaFP11];
const psaVT=[psaVT6,psaVT7,psaVT8,psaVT9,psaVT10,psaVT11];

// sample time of record index i (sampling grid definition)
const sampleTime = i => i < N_STRONG ? i*DT_STRONG : N_STRONG*DT_STRONG + (i-N_STRONG)*DT_TAIL;

// ---------------- layout ----------------
const BOX_L=[157,394,631,867], BOX_W=178;
const BOX_T=[84,246,405,566,726,888], BOX_H=119;
const COL_CX=[229,465,706,953], HEAD_Y=30;
const D_A=[[16,46,46],[54,54,54],[54,54,54],[54,54,54],[47,43,46],[54,54,54]];
const D_P=[46,50,55,55,50,58];
const PL=75, PT=12, PR=12, PB=42;
const FONT={family:'"Liberation Sans", Arial, sans-serif', size:12, lineHeight:1.2};
const fmt=v=>String(Math.round(v*1e4)/1e4);

function addText(txt,x,y){const d=document.createElement('div');d.className='hd';d.textContent=txt;d.style.left=x+'px';d.style.top=y+'px';document.body.appendChild(d);}
addText('Event',48,24); addText('No.',49,52);
columns.forEach((c,i)=>addText(c,COL_CX[i],HEAD_Y));
events.forEach((e,r)=>addText(e,47,BOX_T[r]+BOX_H/2));

function framePlugin(marks,label,legend){
  return {id:'frame',afterDraw(chart){
    const {ctx,chartArea:a,scales:{x,y}}=chart;
    ctx.save();
    ctx.strokeStyle='#000';ctx.lineWidth=1;ctx.setLineDash([]);
    const L=Math.round(a.left)+0.5,T=Math.round(a.top)+0.5,R=Math.round(a.right)+0.5,B=Math.round(a.bottom)+0.5;
    ctx.strokeRect(L,T,R-L,B-T);
    ctx.beginPath();
    x.ticks.forEach(t=>{const p=Math.round(x.getPixelForValue(t.value))+0.5;ctx.moveTo(p,B);ctx.lineTo(p,B-3);ctx.moveTo(p,T);ctx.lineTo(p,T+3);});
    y.ticks.forEach(t=>{const p=Math.round(y.getPixelForValue(t.value))+0.5;ctx.moveTo(L,p);ctx.lineTo(L+3,p);ctx.moveTo(R,p);ctx.lineTo(R-3,p);});
    ctx.stroke();
    if(marks){
      const data=chart.data.datasets[0].data;
      const yv=data[marks[0]].y;
      ctx.font='12px "Liberation Sans", Arial, sans-serif';ctx.textBaseline='middle';ctx.textAlign='left';ctx.fillStyle='#000';
      marks.forEach(i=>{
        const px=x.getPixelForValue(data[i].x),py=y.getPixelForValue(yv);
        ctx.beginPath();ctx.arc(px,py,4,0,2*Math.PI);ctx.stroke();
        ctx.fillText(label,px+8,py);
      });
    }
    if(legend){
      const dashes=[[],[10,6],[1,2]];
      const ys=[13,35,59];
      ctx.font='15px "Liberation Serif", serif';ctx.textBaseline='middle';ctx.textAlign='left';ctx.fillStyle='#000';
      legendLabels.forEach((lb,k)=>{
        ctx.setLineDash(dashes[k]);ctx.beginPath();
        ctx.moveTo(a.left+89,a.top+ys[k]);ctx.lineTo(a.left+137,a.top+ys[k]);ctx.stroke();
        ctx.setLineDash([]);ctx.fillText(lb,a.left+141,a.top+ys[k]+1);
      });
    }
    ctx.restore();
  }};
}

function makeChart(r,c,datasets,xMax,xTicks,yMin,yMax,yTicks,xTitle,yTitle,D,plugin){
  const cv=document.createElement('canvas');
  const W=PL+BOX_W+PR,H=PT+BOX_H+PB;
  cv.width=W;cv.height=H;
  cv.style.cssText=`position:absolute;left:${BOX_L[c]-PL}px;top:${BOX_T[r]-PT}px;width:${W}px;height:${H}px`;
  document.body.appendChild(cv);
  new Chart(cv,{type:'line',data:{datasets},
    options:{responsive:false,animation:false,devicePixelRatio:1,
      layout:{padding:{left:0,top:PT,right:PR,bottom:0}},
      plugins:{legend:{display:false},tooltip:{enabled:false}},
      elements:{point:{radius:0},line:{borderWidth:1,tension:0}},
      scales:{
        x:{type:'linear',min:0,max:xMax,grid:{display:false,drawTicks:false},border:{display:false},
          afterBuildTicks:s=>{s.ticks=xTicks.map(v=>({value:v}));},
          afterFit:s=>{s.height=PB;},
          ticks:{color:'#000',font:FONT,padding:3,maxRotation:0,autoSkip:false,callback:fmt},
          title:{display:true,text:xTitle,color:'#000',font:FONT,padding:{top:0,bottom:5.8}}},
        y:{type:'linear',min:yMin,max:yMax,grid:{display:false,drawTicks:false},border:{display:false},
          afterBuildTicks:s=>{s.ticks=yTicks.map(v=>({value:v}));},
          afterFit:s=>{s.width=PL;},
          ticks:{color:'#000',font:FONT,padding:5,autoSkip:false,callback:fmt},
          title:{display:true,text:yTitle,color:'#000',font:FONT,padding:{top:PL-D-7.2,bottom:0}}}
      }},
    plugins:[plugin]});
}

const accSets=[accFN,accFP,accVT], peakSets=[peakFN,peakFP,peakVT], labelSets=[peakLabelFN,peakLabelFP,peakLabelVT];
events.forEach((e,r)=>{
  for(let c=0;c<3;c++){
    const s=accSets[c][r];
    const ds=[{data:s.map((v,i)=>({x:sampleTime(i),y:v*MG})),borderColor:'#000',borderWidth:1,fill:false}];
    makeChart(r,c,ds,50,tTicks,-0.01,0.01,fineRow[r]?aTicksFine:aTicksCoarse,'t (sec)','A (g)',D_A[r][c],
      framePlugin(peakSets[c][r],labelSets[c][r],false));
  }
  const toPts=arr=>periods.map((T,k)=>({x:T,y:arr[k]==null?null:arr[k]*MG}));
  const ds=[
    {data:toPts(psaFN[r]),borderColor:'#000',borderWidth:1,borderDash:[],fill:false},
    {data:toPts(psaFP[r]),borderColor:'#000',borderWidth:1,borderDash:[15,5],fill:false},
    {data:toPts(psaVT[r]),borderColor:'#000',borderWidth:1,borderDash:[4,4],fill:false}];
  makeChart(r,3,ds,5,TTicks,0,0.02,fineRow[r]?psaTicksFine:psaTicksCoarse,'T (sec)','PSA (g)',D_P[r],
    framePlugin(null,'',r===0));
});
</script>
</body></html>
